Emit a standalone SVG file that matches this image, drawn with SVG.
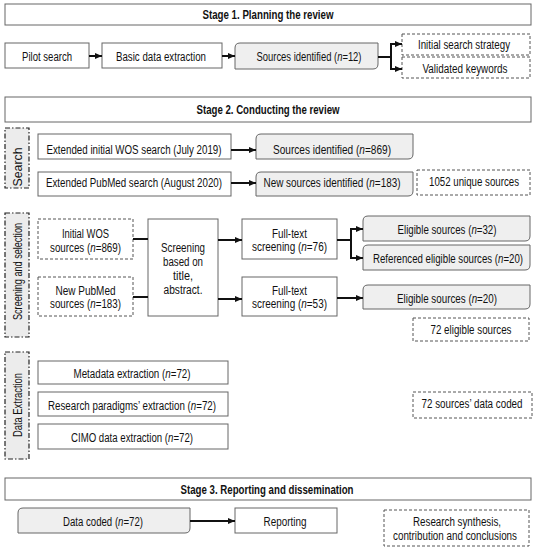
<svg xmlns="http://www.w3.org/2000/svg" width="537" height="550" viewBox="0 0 537 550">
<style>
text{font-family:"Liberation Sans",Arial,sans-serif;font-size:12.5px;fill:#111;text-anchor:middle;}
.b{font-weight:bold;}
.box{fill:#fff;stroke:#666;stroke-width:1;}
.gray{fill:#efefef;stroke:#666;stroke-width:1;}
.dash{fill:#fff;stroke:#555;stroke-width:1;stroke-dasharray:3,2;}
.side{fill:#ececec;stroke:#222;stroke-width:1.2;stroke-dasharray:5,2,1.5,2;}
.c{fill:none;stroke:#111;stroke-width:2;}
.a{marker-end:url(#ah);}
</style>
<defs>
<marker id="ah" markerUnits="userSpaceOnUse" markerWidth="8" markerHeight="8" refX="7" refY="4" orient="auto">
<path d="M0,1 L7,4 L0,7 Z" fill="#111"/>
</marker>
</defs>
<rect width="537" height="550" fill="#fff"/>

<g id="stage1">
<rect class="box" x="5" y="4" width="526" height="21"/>
<text class="b" x="268" y="19" textLength="131" lengthAdjust="spacingAndGlyphs">Stage 1. Planning the review</text>
</g>
<g id="pilot"><rect class="box" x="5" y="43" width="84" height="25"/><text x="47" y="61" textLength="50" lengthAdjust="spacingAndGlyphs">Pilot search</text></g>
<g id="basic"><rect class="box" x="102" y="43" width="120" height="25"/><text x="161" y="61" textLength="90" lengthAdjust="spacingAndGlyphs">Basic data extraction</text></g>
<g id="src12"><path class="gray" d="M240,43 H378 V64 Q378,69 373,69 H235 V48 Q235,43 240,43 Z"/><text x="309" y="61" textLength="105" lengthAdjust="spacingAndGlyphs">Sources identified (<tspan font-style="italic">n</tspan>=12)</text></g>
<g id="initstrat"><rect class="dash" x="402" y="34" width="128" height="21"/><text x="464" y="48.5" textLength="92" lengthAdjust="spacingAndGlyphs">Initial search strategy</text></g>
<g id="validkw"><rect class="dash" x="402" y="57" width="128" height="21"/><text x="465" y="73" textLength="85" lengthAdjust="spacingAndGlyphs">Validated keywords</text></g>

<g id="stage2">
<rect class="box" x="5" y="97" width="526" height="25"/>
<text class="b" x="268" y="114" textLength="143" lengthAdjust="spacingAndGlyphs">Stage 2. Conducting the review</text>
</g>
<g id="side-search"><rect class="side" x="5" y="128" width="24" height="60"/><text transform="translate(21.5,167) rotate(-90)" textLength="39" lengthAdjust="spacingAndGlyphs">Search</text></g>
<g id="wos"><rect class="box" x="38" y="134" width="193" height="25"/><text x="134" y="154" textLength="175" lengthAdjust="spacingAndGlyphs">Extended initial WOS search (July 2019)</text></g>
<g id="pubmed"><rect class="box" x="38" y="172" width="193" height="24"/><text x="134" y="186.5" textLength="176" lengthAdjust="spacingAndGlyphs">Extended PubMed search (August 2020)</text></g>
<g id="src869"><path class="gray" d="M261,134 H413 V154 Q413,159 408,159 H256 V139 Q256,134 261,134 Z"/><text x="332" y="154" textLength="118" lengthAdjust="spacingAndGlyphs">Sources identified (<tspan font-style="italic">n</tspan>=869)</text></g>
<g id="src183"><path class="gray" d="M261,172 H413 V191 Q413,196 408,196 H256 V177 Q256,172 261,172 Z"/><text x="332" y="186.5" textLength="137" lengthAdjust="spacingAndGlyphs">New sources identified (<tspan font-style="italic">n</tspan>=183)</text></g>
<g id="unique"><rect class="dash" x="417" y="170" width="113" height="25"/><text x="474" y="186" textLength="90" lengthAdjust="spacingAndGlyphs">1052 unique sources</text></g>

<g id="side-screen"><rect class="side" x="5" y="213" width="24" height="124"/><text transform="translate(21.5,271.5) rotate(-90)" textLength="97" lengthAdjust="spacingAndGlyphs">Screening and selection</text></g>
<g id="initwos"><rect class="dash" x="38" y="219" width="95" height="40"/><text x="85.5" y="237.5" textLength="47" lengthAdjust="spacingAndGlyphs">Initial WOS</text><text x="85.5" y="251.5" textLength="71" lengthAdjust="spacingAndGlyphs">sources (<tspan font-style="italic">n</tspan>=869)</text></g>
<g id="newpub"><rect class="dash" x="38" y="277" width="95" height="39"/><text x="85.5" y="294.5" textLength="60" lengthAdjust="spacingAndGlyphs">New PubMed</text><text x="85.5" y="308" textLength="71" lengthAdjust="spacingAndGlyphs">sources (<tspan font-style="italic">n</tspan>=183)</text></g>
<g id="screening"><rect class="box" x="148" y="219" width="70" height="97"/>
<text x="183" y="252" textLength="44" lengthAdjust="spacingAndGlyphs">Screening</text>
<text x="183" y="266" textLength="40" lengthAdjust="spacingAndGlyphs">based on</text>
<text x="183" y="280" textLength="20" lengthAdjust="spacingAndGlyphs">title,</text>
<text x="183" y="293.5" textLength="39" lengthAdjust="spacingAndGlyphs">abstract.</text></g>
<g id="ft76"><rect class="box" x="242" y="219" width="95" height="40"/><text x="289.5" y="237.5" textLength="35" lengthAdjust="spacingAndGlyphs">Full-text</text><text x="289.5" y="251" textLength="75" lengthAdjust="spacingAndGlyphs">screening (<tspan font-style="italic">n</tspan>=76)</text></g>
<g id="ft53"><rect class="box" x="242" y="277" width="95" height="39"/><text x="289.5" y="294.5" textLength="35" lengthAdjust="spacingAndGlyphs">Full-text</text><text x="289.5" y="308" textLength="75" lengthAdjust="spacingAndGlyphs">screening (<tspan font-style="italic">n</tspan>=53)</text></g>
<g id="elig32"><path class="gray" d="M368,216 H530 V236 Q530,241 525,241 H363 V221 Q363,216 368,216 Z"/><text x="447" y="233.5" textLength="99" lengthAdjust="spacingAndGlyphs">Eligible sources (<tspan font-style="italic">n</tspan>=32)</text></g>
<g id="refelig"><path class="gray" d="M368,245 H530 V265 Q530,270 525,270 H363 V250 Q363,245 368,245 Z"/><text x="448" y="262.5" textLength="150" lengthAdjust="spacingAndGlyphs">Referenced eligible sources (<tspan font-style="italic">n</tspan>=20)</text></g>
<g id="elig20"><path class="gray" d="M368,285 H530 V304 Q530,309 525,309 H363 V290 Q363,285 368,285 Z"/><text x="447" y="302.5" textLength="100" lengthAdjust="spacingAndGlyphs">Eligible sources (<tspan font-style="italic">n</tspan>=20)</text></g>
<g id="elig72"><rect class="dash" x="413" y="318" width="116" height="23"/><text x="471" y="333.5" textLength="81" lengthAdjust="spacingAndGlyphs">72 eligible sources</text></g>

<g id="side-data"><rect class="side" x="5" y="352" width="24" height="107"/><text transform="translate(21.5,405) rotate(-90)" textLength="64" lengthAdjust="spacingAndGlyphs">Data Extraction</text></g>
<g id="meta"><rect class="box" x="38" y="361" width="190" height="23"/><text x="132" y="378" textLength="117" lengthAdjust="spacingAndGlyphs">Metadata extraction (<tspan font-style="italic">n</tspan>=72)</text></g>
<g id="paradigm"><rect class="box" x="38" y="392" width="190" height="24"/><text x="132" y="409.5" textLength="168" lengthAdjust="spacingAndGlyphs">Research paradigms’ extraction (<tspan font-style="italic">n</tspan>=72)</text></g>
<g id="cimo"><rect class="box" x="38" y="424" width="190" height="25"/><text x="132" y="442" textLength="122" lengthAdjust="spacingAndGlyphs">CIMO data extraction (<tspan font-style="italic">n</tspan>=72)</text></g>
<g id="coded72"><rect class="dash" x="413" y="392" width="119" height="26"/><text x="472" y="407.5" textLength="101" lengthAdjust="spacingAndGlyphs">72 sources’ data coded</text></g>

<g id="stage3">
<rect class="box" x="5" y="478" width="526" height="22"/>
<text class="b" x="267" y="493.5" textLength="173" lengthAdjust="spacingAndGlyphs">Stage 3. Reporting and dissemination</text>
</g>
<g id="datacoded"><path class="gray" d="M23,508 H190 V528 Q190,533 185,533 H18 V513 Q18,508 23,508 Z"/><text x="103" y="525.5" textLength="80" lengthAdjust="spacingAndGlyphs">Data coded (<tspan font-style="italic">n</tspan>=72)</text></g>
<g id="reporting"><rect class="box" x="235" y="508" width="102" height="25"/><text x="285" y="525.5" textLength="43" lengthAdjust="spacingAndGlyphs">Reporting</text></g>
<g id="synthesis"><rect class="dash" x="384" y="510" width="145" height="36"/><text x="457" y="526" textLength="88" lengthAdjust="spacingAndGlyphs">Research synthesis,</text><text x="455" y="539.5" textLength="124" lengthAdjust="spacingAndGlyphs">contribution and conclusions</text></g>

<g id="connectors">
<line class="c a" x1="89" y1="56" x2="102" y2="56"/>
<line class="c a" x1="222" y1="56" x2="235" y2="56"/>
<line class="c" x1="378" y1="57" x2="391" y2="57"/>
<path class="c a" d="M391,57 V44 H402"/>
<path class="c a" d="M391,57 V69 H402"/>
<line class="c a" x1="231" y1="150" x2="256" y2="150"/>
<line class="c a" x1="231" y1="183" x2="256" y2="183"/>
<line class="c" x1="133" y1="239" x2="148" y2="239"/>
<line class="c" x1="133" y1="297" x2="148" y2="297"/>
<line class="c a" x1="218" y1="240" x2="242" y2="240"/>
<line class="c a" x1="218" y1="299" x2="242" y2="299"/>
<line class="c" x1="337" y1="240" x2="351" y2="240"/>
<path class="c a" d="M351,240 V229 H363"/>
<path class="c a" d="M351,240 V258 H363"/>
<line class="c a" x1="337" y1="298" x2="363" y2="298"/>
<line class="c a" x1="190" y1="521" x2="235" y2="521"/>
</g>
</svg>
